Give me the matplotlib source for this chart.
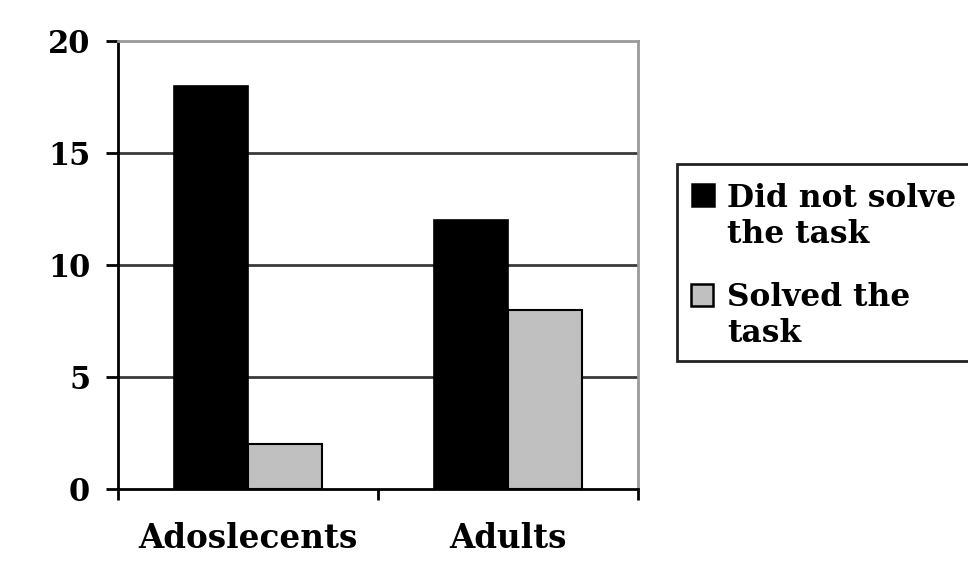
import matplotlib.pyplot as plt
import numpy as np
from matplotlib.patches import Rectangle

categories = ["Adoslecents", "Adults"]
did_not_solve = [18, 12]
solved = [2, 8]
series_labels = ["Did not solve\nthe task", "Solved the\ntask"]
series_colors = ["black", "#c0c0c0"]
y_ticks = [0, 5, 10, 15, 20]

plt.rcParams['font.family'] = ['DejaVu Serif']
plt.rcParams['font.weight'] = 'bold'

W, H = 968, 568
fig = plt.figure(figsize=(W / 100, H / 100), dpi=100)


def fx(px):
    return px / W


def fy(py):
    return 1 - py / H


ax = fig.add_axes([fx(118), fy(489), fx(638) - fx(118), fy(41) - fy(489)])

x = np.arange(len(categories))
w = 0.285
ax.bar(x - w / 2, did_not_solve, w, color=series_colors[0], edgecolor='black',
       linewidth=1.2, zorder=3)
ax.bar(x + w / 2, solved, w, color=series_colors[1], edgecolor='black',
       linewidth=1.5, zorder=3)

ax.set_xlim(-0.5, 1.5)
ax.set_ylim(0, 20)
ax.set_yticks(y_ticks)
ax.set_yticklabels([str(v) for v in y_ticks], fontsize=22, fontweight='bold')
for v in y_ticks[1:-1]:
    ax.axhline(v, color='#3a3a3a', linewidth=2.0, zorder=1)

ax.set_xticks(x)
ax.set_xticklabels(categories, fontsize=23.5, fontweight='bold')
ax.tick_params(axis='x', length=0, pad=24)
ax.set_xticks([-0.5, 0.5, 1.5], minor=True)
ax.tick_params(axis='x', which='minor', length=8, width=2, direction='out')
ax.tick_params(axis='y', length=9, width=2, direction='out', pad=11)

for side in ['left', 'bottom']:
    ax.spines[side].set_color('black')
    ax.spines[side].set_linewidth(2)
for side in ['top', 'right']:
    ax.spines[side].set_color('#9a9a9a')
    ax.spines[side].set_linewidth(2)

# legend box drawn in figure pixel positions
fig.patches.append(Rectangle((fx(677), fy(361)), fx(990) - fx(677), fy(164) - fy(361),
                             transform=fig.transFigure, facecolor='white',
                             edgecolor='#222222', linewidth=2))
# baseline of first and last line of each entry
first_baselines = [205, 305]
last_baselines = [243, 342]
marker_x = [692, 691]
for label, color, b0, b1, mx in zip(series_labels, series_colors,
                                    first_baselines, last_baselines, marker_x):
    fig.patches.append(Rectangle((fx(mx), fy(b0 + 1)), fx(22), 22 / H,
                                 transform=fig.transFigure, facecolor=color,
                                 edgecolor='black', linewidth=1.8))
    fig.text(fx(727), fy(b1), label, fontsize=22.5, fontweight='bold',
             va='baseline', ha='left', linespacing=1.22)

fig.savefig('out.png', dpi=100)
